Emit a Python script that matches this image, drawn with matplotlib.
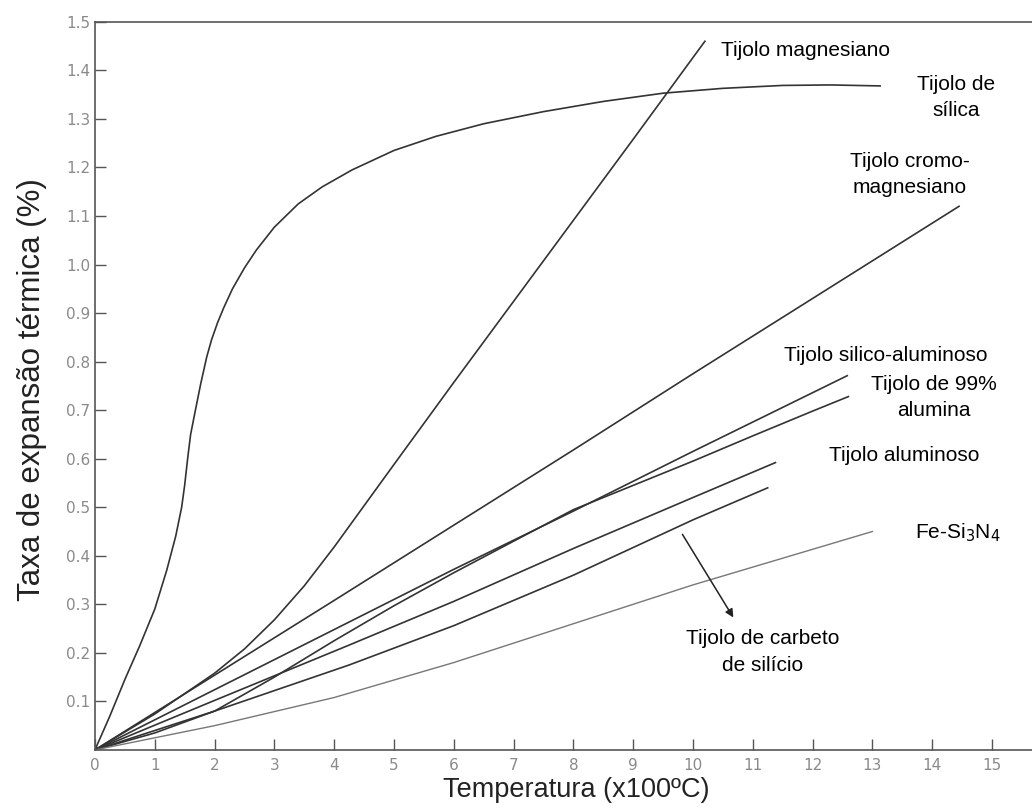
import numpy as np
import matplotlib.pyplot as plt

# === Curve data (T in x100 C, expansion in %) ===
silica_x = [0, 0.25, 0.5, 0.75, 1.0, 1.2, 1.35, 1.45, 1.5, 1.55, 1.6, 1.68, 1.77, 1.87, 1.95, 2.05, 2.15,
            2.3, 2.5, 2.7, 3.0, 3.4, 3.8, 4.3, 5.0, 5.7, 6.5, 7.5, 8.5, 9.5, 10.5, 11.5, 12.3, 13.13]
silica_y = [0, 0.07, 0.145, 0.215, 0.29, 0.37, 0.44, 0.5, 0.545, 0.6, 0.65, 0.7, 0.755, 0.81, 0.845, 0.88, 0.91,
            0.95, 0.993, 1.03, 1.077, 1.125, 1.16, 1.195, 1.235, 1.264, 1.29, 1.315, 1.336, 1.353, 1.363, 1.369, 1.37, 1.368]

magn_x = [0, 1, 2, 2.5, 3, 3.5, 4, 5, 6, 7, 8, 9, 10.2]
magn_y = [0, 0.074, 0.158, 0.208, 0.268, 0.338, 0.418, 0.588, 0.757, 0.924, 1.091, 1.258, 1.46]

cromo_x = [0, 2, 4, 6, 8, 10, 12, 14.45]
cromo_y = [0, 0.154, 0.308, 0.463, 0.618, 0.775, 0.93, 1.12]

silal_x = [0, 2, 4, 6, 8, 10, 12.58]
silal_y = [0, 0.124, 0.248, 0.372, 0.492, 0.615, 0.771]

alum99_x = [0, 1, 2, 3, 4, 5, 6, 7, 8, 8.5, 9, 10, 11, 12, 12.6]
alum99_y = [0, 0.035, 0.08, 0.15, 0.225, 0.297, 0.365, 0.43, 0.495, 0.52, 0.545, 0.595, 0.647, 0.698, 0.728]

alum_x = [0, 2, 4.25, 6, 8, 10, 11.38]
alum_y = [0, 0.102, 0.216, 0.306, 0.415, 0.52, 0.592]

sic_x = [0, 2, 4.25, 6, 8, 10, 11.25]
sic_y = [0, 0.08, 0.175, 0.256, 0.36, 0.474, 0.54]

fesin_x = [0, 2, 4, 6, 8, 10, 13]
fesin_y = [0, 0.05, 0.108, 0.18, 0.26, 0.34, 0.45]

x_ticks = list(range(0, 16))
y_ticks = [0.1, 0.2, 0.3, 0.4, 0.5, 0.6, 0.7, 0.8, 0.9, 1.0, 1.1, 1.2, 1.3, 1.4, 1.5]

plt.rcParams['font.family'] = ['Liberation Sans', 'DejaVu Sans']

fig = plt.figure(figsize=(10.32, 8.09), dpi=100)
ax = fig.add_axes([0.092, 0.073, 0.908, 0.9])

dark = '#333333'
for xs, ys in [(silica_x, silica_y), (magn_x, magn_y), (cromo_x, cromo_y),
               (silal_x, silal_y), (alum99_x, alum99_y), (alum_x, alum_y), (sic_x, sic_y)]:
    ax.plot(xs, ys, color=dark, lw=1.2, solid_joinstyle='round')
ax.plot(fesin_x, fesin_y, color='#777777', lw=1.0)

ax.set_xlim(0, 15.67)
ax.set_ylim(0, 1.5)
ax.set_xticks(x_ticks)
ax.set_yticks(y_ticks)
ax.set_yticklabels([f'{v:.1f}' for v in y_ticks])
ax.tick_params(direction='in', length=8, width=1.0, color='#555555',
               labelcolor='#8a8a8a', labelsize=11)
ax.tick_params(axis='x', pad=6)
for lab in ax.get_xticklabels() + ax.get_yticklabels():
    lab.set_family('DejaVu Sans')
ax.spines['right'].set_visible(False)
for s in ['left', 'bottom', 'top']:
    ax.spines[s].set_color('#555555')
    ax.spines[s].set_linewidth(1.2)

ax.set_xlabel('Temperatura (x100ºC)', fontsize=19.5, color='#222222')
ax.xaxis.set_label_coords(0.514, -0.037)
ax.set_ylabel('Taxa de expansão térmica (%)', fontsize=22.5, color='#222222')
ax.yaxis.set_label_coords(-0.051, 0.495)

fs = 15
ls = 1.5
ax.text(10.47, 1.44, 'Tijolo magnesiano', fontsize=fs, va='center', ha='left')
ax.text(14.4, 1.344, 'Tijolo de\nsílica', fontsize=fs, va='center', ha='center', linespacing=ls)
ax.text(13.63, 1.186, 'Tijolo cromo-\nmagnesiano', fontsize=fs, va='center', ha='center', linespacing=ls)
ax.text(11.53, 0.812, 'Tijolo silico-aluminoso', fontsize=fs, va='center', ha='left')
ax.text(14.03, 0.726, 'Tijolo de 99%\nalumina', fontsize=fs, va='center', ha='center', linespacing=ls)
ax.text(12.27, 0.606, 'Tijolo aluminoso', fontsize=fs, va='center', ha='left')
ax.text(13.72, 0.447, r'Fe-Si$_3$N$_4$', fontsize=fs, va='center', ha='left')
ax.text(11.17, 0.202, 'Tijolo de carbeto\nde silício', fontsize=fs, va='center', ha='center', linespacing=ls)
ax.annotate('', xy=(10.7, 0.268), xytext=(9.8, 0.449),
            arrowprops=dict(arrowstyle='-|>', color='#222222', lw=1.1, mutation_scale=12))

fig.savefig('out.png', dpi=100)
